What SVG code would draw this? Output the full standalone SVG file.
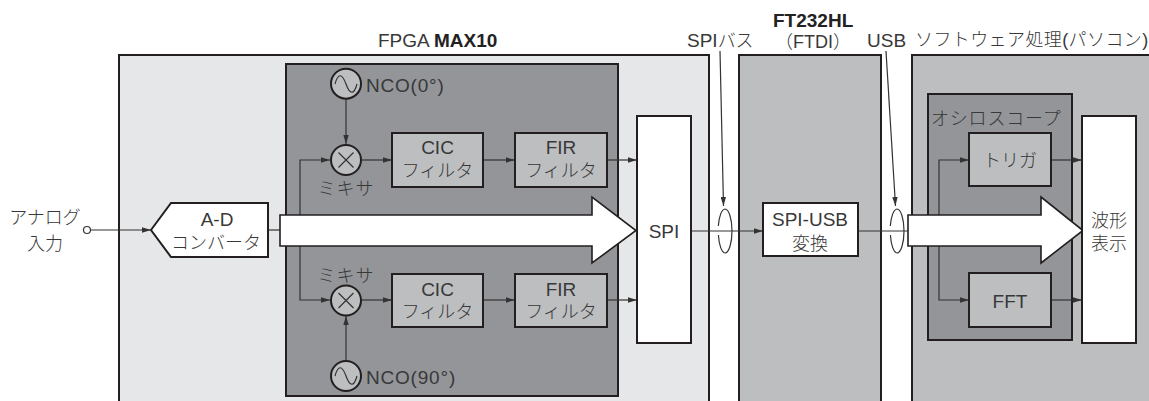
<svg xmlns="http://www.w3.org/2000/svg" width="1149" height="401" viewBox="0 0 1149 401">
<style>
.t{font-family:"Liberation Sans","Noto Sans CJK JP",sans-serif;font-size:19px;fill:#383838}
.j{font-family:"Liberation Sans","Noto Sans CJK JP",sans-serif;font-size:18px;fill:#383838;font-weight:300}
.b{font-weight:bold;fill:#222}
.m{text-anchor:middle}
.panel{stroke:#231f20;stroke-width:2}
.box{fill:#bcbec0;stroke:#231f20;stroke-width:2}
.wbox{fill:#fff;stroke:#231f20;stroke-width:2}
.ln{fill:none;stroke:#333;stroke-width:1.2}
.big{fill:#fff;stroke:#231f20;stroke-width:1.6}
</style>
<defs>
<marker id="ah" viewBox="0 0 10 6" refX="10" refY="3" markerWidth="9" markerHeight="5.4" markerUnits="userSpaceOnUse" orient="auto"><path d="M0,0 L10,3 L0,6 z" fill="#333"/></marker>
</defs>

<g id="panel-fpga">
<rect class="panel" x="119" y="55" width="590" height="360" fill="#e6e7e8"/>
<text class="t" x="378" y="47">FPGA <tspan class="b">MAX10</tspan></text>
</g>
<g id="panel-ddc">
<rect class="panel" x="286" y="64" width="332" height="332" fill="#939598"/>
</g>
<g id="panel-ft232">
<rect class="panel" x="739" y="55" width="142" height="360" fill="#bcbec0"/>
<text class="t b" x="773" y="27">FT232HL</text>
<text class="j" x="775" y="48">（FTDI）</text>
</g>
<g id="panel-pc">
<rect class="panel" x="912" y="55" width="250" height="360" fill="#bcbec0"/>
<text class="j" x="915" y="46" letter-spacing="0.4">ソフトウェア処理(パソコン)</text>
</g>
<g id="osc">
<rect class="panel" x="928" y="94" width="144" height="246" fill="#939598"/>
<text class="j" x="931" y="125" letter-spacing="0.8">オシロスコープ</text>
</g>

<g id="connectors">
<circle cx="87" cy="230" r="3.5" fill="#fff" stroke="#333" stroke-width="1.2"/>
<line class="ln" x1="90.5" y1="230" x2="151" y2="230" marker-end="url(#ah)"/>
<line class="ln" x1="268" y1="230" x2="282" y2="230"/>
<path class="ln" d="M300,230 V160 H330" marker-end="url(#ah)"/>
<path class="ln" d="M300,230 V300 H330" marker-end="url(#ah)"/>
<line class="ln" x1="346" y1="99" x2="346" y2="144" marker-end="url(#ah)"/>
<line class="ln" x1="346" y1="360" x2="346" y2="316" marker-end="url(#ah)"/>
<line class="ln" x1="361" y1="160" x2="392" y2="160" marker-end="url(#ah)"/>
<line class="ln" x1="483" y1="160" x2="515" y2="160" marker-end="url(#ah)"/>
<line class="ln" x1="607" y1="160" x2="637" y2="160" marker-end="url(#ah)"/>
<line class="ln" x1="361" y1="300" x2="392" y2="300" marker-end="url(#ah)"/>
<line class="ln" x1="483" y1="300" x2="515" y2="300" marker-end="url(#ah)"/>
<line class="ln" x1="607" y1="300" x2="637" y2="300" marker-end="url(#ah)"/>
<line class="ln" x1="691" y1="231" x2="763" y2="231" marker-end="url(#ah)"/>
<line class="ln" x1="858" y1="231" x2="910" y2="231"/>
<path class="ln" d="M939,231 V160 H969" marker-end="url(#ah)"/>
<path class="ln" d="M939,231 V300 H969" marker-end="url(#ah)"/>
<line class="ln" x1="1051" y1="160" x2="1082" y2="160" marker-end="url(#ah)"/>
<line class="ln" x1="1051" y1="300" x2="1082" y2="300" marker-end="url(#ah)"/>
<line class="ln" x1="720" y1="51" x2="723.5" y2="206" marker-end="url(#ah)"/>
<line class="ln" x1="886" y1="51" x2="895.5" y2="206" marker-end="url(#ah)"/>
<path class="ln" d="M725,209 A7,22 0 0 1 725,253 M725,253 A7,22 0 0 1 718.4,235 M718.3,226 A7,22 0 0 1 725,209"/>
<path class="ln" d="M897,209 A7,22 0 0 1 897,253 M897,253 A7,22 0 0 1 890.4,235 M890.3,226 A7,22 0 0 1 897,209"/>
<polygon class="big" points="280,215 592,215 592,197 636,230.5 592,263 592,246 280,246"/>
<polygon class="big" points="908,215 1041,215 1041,197 1083,230.5 1041,263 1041,246 908,246"/>
</g>

<g id="input">
<text class="j m" x="45" y="224">アナログ</text>
<text class="j m" x="45" y="250">入力</text>
</g>
<g id="adc">
<polygon class="wbox" points="151,230 171,203 268,203 268,257 171,257"/>
<text class="t m" x="217" y="226">A-D</text>
<text class="j m" x="216" y="249">コンバータ</text>
</g>
<g id="nco0">
<circle class="box" cx="346" cy="83.7" r="15"/>
<path class="ln" d="M335,84 C338,73 342,73 346,84 C350,95 354,95 357,84" stroke-width="1.4"/>
<text class="t" x="366" y="92" letter-spacing="0.8">NCO(0°)</text>
</g>
<g id="mixer1">
<circle class="box" cx="346" cy="160" r="15"/>
<path class="ln" d="M338.5,152.5 L353.5,167.5 M353.5,152.5 L338.5,167.5" stroke-width="1.4"/>
<text class="j m" x="346" y="195" letter-spacing="1">ミキサ</text>
</g>
<g id="cic1">
<rect class="box" x="392" y="133" width="91" height="54"/>
<text class="t m" x="437.5" y="154">CIC</text>
<text class="j m" x="437.5" y="177">フィルタ</text>
</g>
<g id="fir1">
<rect class="box" x="515" y="133" width="92" height="54"/>
<text class="t m" x="561" y="154">FIR</text>
<text class="j m" x="561" y="177">フィルタ</text>
</g>
<g id="mixer2">
<circle class="box" cx="346" cy="300.5" r="15"/>
<path class="ln" d="M338.5,293 L353.5,308 M353.5,293 L338.5,308" stroke-width="1.4"/>
<text class="j m" x="346" y="282" letter-spacing="1">ミキサ</text>
</g>
<g id="cic2">
<rect class="box" x="392" y="274" width="91" height="53"/>
<text class="t m" x="437.5" y="296">CIC</text>
<text class="j m" x="437.5" y="318">フィルタ</text>
</g>
<g id="fir2">
<rect class="box" x="515" y="274" width="92" height="53"/>
<text class="t m" x="561" y="296">FIR</text>
<text class="j m" x="561" y="318">フィルタ</text>
</g>
<g id="nco90">
<circle class="box" cx="346" cy="376" r="15"/>
<path class="ln" d="M335,376 C338,365 342,365 346,376 C350,387 354,387 357,376" stroke-width="1.4"/>
<text class="t" x="366" y="384" letter-spacing="0.8">NCO(90°)</text>
</g>
<g id="spi">
<rect class="wbox" x="637" y="116" width="54" height="227"/>
<text class="t m" x="664" y="238">SPI</text>
</g>
<g id="spi-bus-label">
<text class="t" x="687" y="47">SPI<tspan class="j">バス</tspan></text>
</g>
<g id="spi-usb">
<rect class="wbox" x="763" y="203" width="95" height="53"/>
<text class="t m" x="810" y="226">SPI-USB</text>
<text class="j m" x="810" y="250">変換</text>
</g>
<g id="usb-label">
<text class="t" x="867" y="47">USB</text>
</g>
<g id="trigger">
<rect class="box" x="969" y="133" width="82" height="53"/>
<text class="j m" x="1010" y="167">トリガ</text>
</g>
<g id="fft">
<rect class="box" x="969" y="273" width="82" height="54"/>
<text class="t m" x="1010" y="308">FFT</text>
</g>
<g id="display">
<rect class="wbox" x="1082" y="116" width="54" height="227"/>
<text class="j m" x="1109" y="227">波形</text>
<text class="j m" x="1109" y="250">表示</text>
</g>
</svg>
